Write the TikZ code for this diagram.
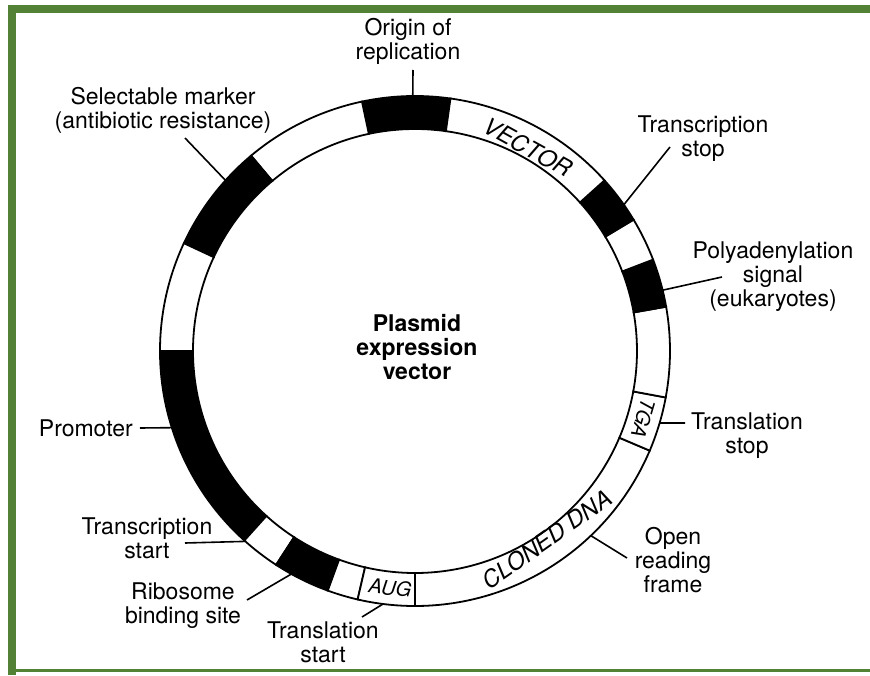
\documentclass[tikz,border=0pt]{standalone}
\usepackage{fontspec}
\setmainfont{TeX Gyre Heros}
\definecolor{framegreen}{RGB}{83,129,53}

\begin{document}
\begin{tikzpicture}[
    x=1pt,y=1pt,
    seg/.style={draw=black,line width=1.8pt},
    lbl/.style={font=\fontsize{23}{24}\selectfont,align=center,inner sep=0pt},
    ringlbl/.style={font=\fontsize{23.5}{23.5}\selectfont\itshape,inner sep=0pt},
    boxlbl/.style={font=\fontsize{20}{20}\selectfont\itshape,inner sep=0pt},
    leader/.style={line width=1.6pt}
]

% page and frame
\useasboundingbox (-415,-324) rectangle (455,351);
\fill[white] (-415,-324) rectangle (455,351);
\fill[framegreen] (-407,-324) rectangle (-399,346);
\fill[framegreen] (-407,338) rectangle (455,346);
\fill[framegreen] (-407,-321) rectangle (455,-318);

% ring segments (start/end/fill)
\foreach \a/\b/\c in {82/102/black, 102/130/white, 130/155/black, 155/180/white,
    180/228/black, 228/237/white, 237/250/black, 250/257/white, 257/270/white,
    270/337/white, 337/349.5/white, 349.5/370/white, 370/381/black,
    381/391/white, 391/402/black, 402/442/white}
  \draw[seg,fill=\c] (\a:255) arc (\a:\b:255) -- (\b:222) arc (\b:\a:222) -- cycle;

% text in the ring
\node[ringlbl,rotate=-29] (vector) at (61:233) {VECTOR};
\node[ringlbl,rotate=35] (cloned) at (-55:230) {CLONED DNA};
\node[boxlbl,rotate=-6] (aug) at (-96:238) {AUG};
\node[boxlbl,rotate=-106.5] (tga) at (-16.5:238) {TGA};

% centre
\node[lbl,font=\fontsize{23}{24}\selectfont\bfseries] (title) at (2,4) {Plasmid\\expression\\vector};

% labels
\node[lbl] (ori) at (-7,310) {Origin of\\replication};
\node[lbl] (marker) at (-252,241) {Selectable marker\\(antibiotic resistance)};
\node[lbl] (tstop) at (288,212.5) {Transcription\\stop};
\node[lbl] (polya) at (358,74) {Polyadenylation\\signal\\(eukaryotes)};
\node[lbl] (lstop) at (332,-84.5) {Translation\\stop};
\node[lbl] (orf) at (258,-209) {Open\\reading\\frame};
\node[lbl,anchor=east] (prom) at (-282,-77) {Promoter};
\node[lbl] (tstart) at (-268,-187.5) {Transcription\\start};
\node[lbl] (rbs) at (-232,-254.5) {Ribosome\\binding site};
\node[lbl] (lstart) at (-92,-291.5) {Translation\\start};

% leader ends
\coordinate (ori r) at (90.5:255);   \coordinate (ori e) at (-2,281);
\coordinate (marker r) at (138:255); \coordinate (marker e) at (-230,213);
\coordinate (tstop r) at (35:255);   \coordinate (tstop e) at (255,204);
\coordinate (polya r) at (13.8:255); \coordinate (polya e) at (307,74);
\coordinate (lstop r) at (-16.4:255); \coordinate (lstop e) at (270,-72);
\coordinate (orf r) at (-46.4:255);  \coordinate (orf e) at (212,-207);
\coordinate (prom r) at (197.5:255); \coordinate (prom e) at (-275,-77);
\coordinate (tstart r) at (228.3:255); \coordinate (tstart e) at (-230,-192);
\coordinate (rbs r) at (241:255);    \coordinate (rbs e) at (-168,-249);
\coordinate (lstart r) at (262.8:255); \coordinate (lstart e) at (-53,-266);

% leaders
\foreach \n in {ori,marker,tstop,polya,lstop,orf,prom,tstart,rbs,lstart}
  \draw[leader] (\n\space r) -- (\n\space e);

\end{tikzpicture}
\end{document}
